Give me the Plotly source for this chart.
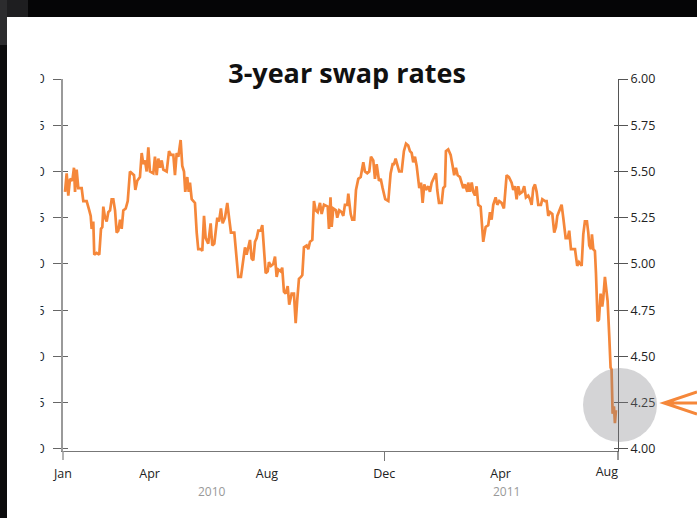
import pandas as pd
import plotly.graph_objects as go

# ---- data (days since 1 Jan 2010, 3-year swap rate %) ----
day_offset = [
    2.1, 3.8, 5.5, 7.3, 9.7, 11.4, 12.5, 14.2, 15.9, 19.4, 21.1, 24.6, 27.3, 28.8, 29.8, 31.5,
    32.5, 35.0, 37.7, 39.5, 40.9, 41.9, 43.7, 45.4, 47.1, 48.9, 50.6, 52.3, 54.1, 55.8, 57.5,
    59.3, 61.0, 62.7, 65.2, 67.3, 69.6, 72.0, 73.8, 75.2, 77.2, 80.0, 81.8, 83.5, 85.2, 87.0,
    88.7, 90.4, 93.9, 95.6, 97.4, 99.1, 100.8, 102.6, 104.3, 107.8, 110.2, 112.3, 114.7, 116.4,
    118.2, 119.9, 122.3, 124.0, 125.8, 127.1, 129.2, 130.7, 132.0, 133.8, 137.2, 139.0, 140.6,
    143.5, 144.8, 146.6, 148.3, 151.0, 153.5, 155.2, 157.3, 160.4, 162.2, 164.2, 166.0, 168.4,
    170.8, 172.9, 174.6, 178.1, 180.6, 182.2, 185.0, 187.4, 189.2, 190.9, 192.6, 194.4, 196.1,
    197.8, 199.6, 201.4, 203.0, 205.5, 207.2, 209.0, 210.7, 212.8, 214.1, 216.2, 218.6, 220.4,
    222.1, 223.8, 226.3, 227.9, 229.7, 231.5, 233.6, 235.2, 237.7, 240.1, 241.9, 243.6, 245.3,
    247.4, 248.8, 250.5, 253.3, 255.0, 256.8, 259.2, 260.9, 262.7, 264.8, 267.2, 268.9, 271.3,
    275.2, 276.5, 278.1, 279.3, 281.0, 283.8, 285.1, 287.2, 289.7, 291.4, 293.1, 295.5, 296.6,
    299.1, 300.7, 302.8, 304.6, 307.0, 309.5, 312.2, 313.9, 316.3, 318.4, 320.2, 322.6, 324.3,
    326.1, 328.5, 330.3, 332.3, 333.7, 335.0, 338.2, 340.6, 342.7, 344.1, 345.8, 347.9, 349.5,
    352.1, 354.4, 356.6, 358.9, 360.7, 362.5, 364.1, 365.9, 367.7, 369.3, 370.4, 372.2, 373.9,
    375.6, 377.3, 379.7, 381.5, 383.3, 385.7, 387.8, 389.1, 390.9, 393.7, 395.3, 397.1, 398.1,
    400.5, 403.0, 405.1, 406.7, 408.5, 410.3, 412.7, 414.4, 416.1, 417.9, 420.3, 421.3, 423.1,
    424.9, 426.5, 428.3, 430.0, 431.7, 434.2, 436.9, 439.4, 442.1, 443.9, 445.6, 447.3, 449.8,
    451.5, 453.5, 456.0, 458.4, 461.2, 463.6, 466.4, 468.1, 469.9, 471.6, 473.3, 475.1, 477.5,
    479.5, 481.3, 483.7, 485.5, 487.2, 488.9, 490.7, 492.4, 494.1, 496.9, 498.3, 501.1, 502.8,
    504.5, 506.3, 508.7, 510.7, 512.5, 513.9, 515.6, 518.4, 520.1, 522.6, 524.7, 526.3, 528.1,
    530.5, 532.3, 534.6, 536.4, 539.2, 540.9, 542.6, 544.7, 546.1, 547.1, 548.9, 549.9, 551.3,
    553.0, 554.1, 555.8, 557.2, 558.9, 560.6, 561.6, 563.4, 565.2, 566.2, 567.9, 569.3, 570.3,
    571.4, 572.8, 573.8, 574.9,
]
swap_rate = [
    5.39, 5.49, 5.37, 5.46, 5.45, 5.52, 5.39, 5.51, 5.41, 5.41, 5.34, 5.34, 5.29, 5.26, 5.19, 5.23,
    5.05, 5.06, 5.05, 5.19, 5.20, 5.31, 5.25, 5.23, 5.28, 5.29, 5.35, 5.35, 5.29, 5.17, 5.18,
    5.24, 5.19, 5.29, 5.30, 5.34, 5.50, 5.49, 5.48, 5.40, 5.45, 5.47, 5.60, 5.54, 5.56, 5.50,
    5.63, 5.50, 5.49, 5.58, 5.48, 5.57, 5.52, 5.56, 5.51, 5.50, 5.61, 5.59, 5.59, 5.48,
    5.60, 5.58, 5.67, 5.53, 5.50, 5.39, 5.47, 5.39, 5.44, 5.35, 5.33, 5.17, 5.08,
    5.08, 5.07, 5.26, 5.14, 5.11, 5.22, 5.10, 5.11, 5.25, 5.23, 5.30, 5.22, 5.25,
    5.33, 5.24, 5.17, 5.17, 5.02, 4.93, 4.93, 5.02, 5.09, 5.05, 5.10, 5.13, 5.03,
    5.02, 5.12, 5.14, 5.18, 5.18, 5.21, 5.08, 4.95, 4.96, 5.01, 4.99, 5.00, 5.04,
    4.93, 4.97, 4.96, 4.98, 4.85, 4.84, 4.88, 4.78, 4.84, 4.84, 4.68, 4.81, 4.92,
    4.93, 4.94, 5.09, 5.10, 5.08, 5.12, 5.13, 5.34, 5.29, 5.28, 5.33, 5.27, 5.32,
    5.31, 5.19, 5.36, 5.20, 5.30, 5.29, 5.25, 5.29, 5.28, 5.26, 5.32, 5.32, 5.38,
    5.27, 5.24, 5.24, 5.40, 5.46, 5.47, 5.55, 5.50, 5.49, 5.50, 5.58, 5.56, 5.46,
    5.54, 5.45, 5.46, 5.41, 5.38, 5.35, 5.34, 5.49, 5.54, 5.54, 5.57, 5.53, 5.50,
    5.50, 5.61, 5.65, 5.64, 5.61, 5.60, 5.55, 5.58, 5.53, 5.45, 5.41, 5.44, 5.33,
    5.43, 5.40, 5.42, 5.39, 5.44, 5.47, 5.49, 5.40, 5.33, 5.33, 5.41, 5.42, 5.61,
    5.62, 5.59, 5.53, 5.48, 5.52, 5.48, 5.47, 5.44, 5.41, 5.43, 5.39, 5.44, 5.39,
    5.44, 5.39, 5.37, 5.42, 5.32, 5.31, 5.12, 5.20, 5.21, 5.28, 5.24, 5.32, 5.36,
    5.32, 5.34, 5.33, 5.30, 5.48, 5.47, 5.44, 5.40, 5.42, 5.35, 5.42, 5.38, 5.39,
    5.42, 5.36, 5.37, 5.35, 5.32, 5.41, 5.43, 5.39, 5.32, 5.32, 5.35, 5.34, 5.34,
    5.26, 5.28, 5.27, 5.17, 5.20, 5.26, 5.28, 5.32, 5.25, 5.14, 5.14, 5.18, 5.08,
    5.08, 5.08, 4.99, 5.01, 4.99, 5.16, 5.23, 5.23, 5.17, 5.10, 5.08, 5.16, 5.08,
    5.07, 4.95, 4.69, 4.70, 4.84, 4.77, 4.81, 4.93, 4.85, 4.80, 4.61, 4.44, 4.43,
    4.19, 4.23, 4.14, 4.21,
]

y_ticks = [4.00, 4.25, 4.50, 4.75, 5.00, 5.25, 5.50, 5.75, 6.00]
y_ticktext = [f"{v:.2f}" for v in y_ticks]
month_ticks = ["2010-01-01", "2010-04-01", "2010-08-01", "2010-12-01", "2011-04-01"]
month_labels = ["Jan", "Apr", "Aug", "Dec", "Apr"]
last_tick = ["2011-08-01"]
last_label = ["Aug"]
dec_tick = ["2010-12-01"]
year_labels = ["2010", "2011"]
title_text = "3-year swap rates"

n = min(len(day_offset), len(swap_rate))
dates = (pd.Timestamp("2010-01-01") + pd.to_timedelta(day_offset[:n], unit="D"))
dates = dates.strftime("%Y-%m-%d %H:%M").tolist()
rates = swap_rate[:n]

W, H = 697, 518
L, R, T, B = 63, 618, 79, 451  # plot area in pixels


def px(x):
    return (x - L) / (R - L)


def py(y):
    return (B - y) / (B - T)


ORANGE = "#f5873a"
FONT = "Open Sans"
x_range = ["2010-01-01", "2011-08-01"]
y_range = [3.989, 6.0]

fig = go.Figure()
fig.add_trace(go.Scatter(
    x=dates, y=rates, mode="lines", xaxis="x", yaxis="y",
    line=dict(color=ORANGE, width=2.7), showlegend=False, hoverinfo="skip",
))

common_y = dict(range=y_range, tickvals=y_ticks, ticktext=y_ticktext, showgrid=False,
                zeroline=False, fixedrange=True)
tick_font = dict(family=FONT, size=12.5, color="#222222")

fig.update_layout(
    width=W, height=H, autosize=False,
    margin=dict(l=L, r=W - R, t=T, b=H - B, pad=0),
    paper_bgcolor="white", plot_bgcolor="white",
    font=dict(family=FONT, size=12, color="#333333"),
    title=dict(text=f"<b>{title_text}</b>", x=347 / W, y=1 - 74 / H, xanchor="center",
               yanchor="middle", xref="container", yref="container",
               font=dict(family=FONT, size=27, color="#111111")),
    xaxis=dict(type="date", range=x_range, tickvals=month_ticks, ticktext=month_labels,
               ticks="", showline=True, linecolor="#777777", linewidth=1, showgrid=False,
               zeroline=False, ticklabelstandoff=11, tickfont=tick_font, anchor="y"),
    xaxis2=dict(type="date", range=x_range, overlaying="x", side="bottom", anchor="y",
                tickvals=last_tick, ticktext=last_label, ticks="", showline=False,
                showgrid=False, zeroline=False, ticklabelposition="outside left",
                ticklabelstandoff=11, tickfont=tick_font),
    xaxis3=dict(type="date", range=x_range, overlaying="x", side="bottom", anchor="y",
                tickvals=dec_tick, ticks="outside", ticklen=9, tickcolor="#777777",
                showticklabels=False, showline=False, showgrid=False, zeroline=False),
    yaxis=dict(**common_y, side="left", anchor="x", ticks="outside", ticklen=8,
               tickcolor="#666666", showline=True, linecolor="#9a9a9a", linewidth=1.5,
               ticklabelstandoff=6, tickfont=tick_font),
    yaxis3=dict(**common_y, side="left", overlaying="y", anchor="x", ticks="inside",
                ticklen=5, tickcolor="#666666", showticklabels=False, showline=False),
    yaxis2=dict(**common_y, side="right", overlaying="y", anchor="x", ticks="outside",
                ticklen=9, tickcolor="#555555", showline=True, linecolor="#555555",
                linewidth=1.2, tickfont=tick_font),
    yaxis4=dict(**common_y, side="right", overlaying="y", anchor="x", ticks="inside",
                ticklen=4, tickcolor="#555555", showticklabels=False, showline=False),
)

# invisible helper traces so the extra axes are drawn
for xa, ya in [("x2", "y"), ("x3", "y"), ("x", "y2"), ("x", "y3"), ("x", "y4")]:
    fig.add_trace(go.Scatter(x=[dates[0]], y=[5.0], xaxis=xa, yaxis=ya, mode="markers",
                             marker=dict(opacity=0), showlegend=False, hoverinfo="skip"))

shapes = [
    # axis lines extending below the x-axis
    dict(type="line", xref="paper", yref="paper", x0=0, x1=0, y0=0, y1=py(460),
         line=dict(color="#9a9a9a", width=1.5)),
    dict(type="line", xref="paper", yref="paper", x0=1, x1=1, y0=0, y1=py(460),
         line=dict(color="#555555", width=1.2)),
    # highlight circle
    dict(type="circle", xref="paper", yref="paper", x0=px(583), x1=px(657), y0=py(442),
         y1=py(368), fillcolor="rgba(128,130,135,0.34)", line=dict(width=0), layer="above"),
    # arrow pointing at the circle
    dict(type="path", xref="paper", yref="paper",
         path=(f"M {px(697)},{py(392)} L {px(664)},{py(403)} L {px(697)},{py(414)} "
               f"M {px(665)},{py(403)} L {px(697)},{py(403)}"),
         line=dict(color=ORANGE, width=3), layer="above"),
    # white panel clipping the left labels
    dict(type="rect", xref="paper", yref="paper", x0=px(6), x1=px(40.5), y0=py(470),
         y1=py(55), fillcolor="white", line=dict(width=0), layer="above"),
    # dark surround (photo edge)
    dict(type="rect", xref="paper", yref="paper", x0=px(0), x1=px(7), y0=py(H), y1=py(0),
         fillcolor="#0b0b0c", line=dict(width=0), layer="above"),
    dict(type="rect", xref="paper", yref="paper", x0=px(0), x1=px(W), y0=py(17), y1=py(0),
         fillcolor="#050506", line=dict(width=0), layer="above"),
    dict(type="rect", xref="paper", yref="paper", x0=px(0), x1=px(28), y0=py(17), y1=py(0),
         fillcolor="#1e1e20", line=dict(width=0), layer="above"),
    dict(type="rect", xref="paper", yref="paper", x0=px(0), x1=px(7), y0=py(45), y1=py(0),
         fillcolor="#2c2c2e", line=dict(width=0), layer="above"),
]
fig.update_layout(shapes=shapes)

for label, xpix in zip(year_labels, [212, 506]):
    fig.add_annotation(text=label, xref="paper", yref="paper", x=px(xpix), y=py(492),
                       xanchor="center", yanchor="middle", showarrow=False,
                       font=dict(family=FONT, size=12, color="#999999"))

fig.write_html("out.html")
